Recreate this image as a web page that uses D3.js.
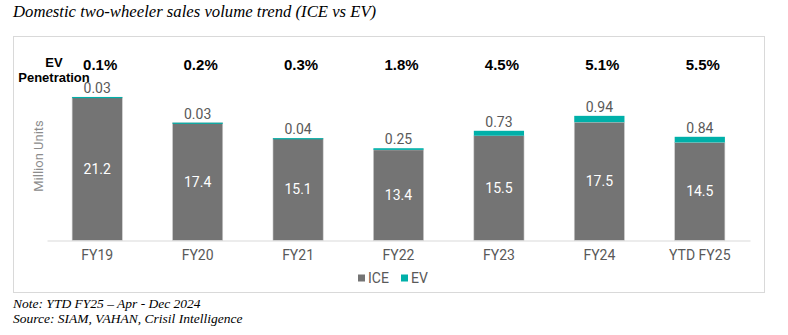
<!DOCTYPE html>
<html><head><meta charset="utf-8">
<script src="https://cdn.jsdelivr.net/npm/d3@7/dist/d3.min.js"></script>
<style>html,body{margin:0;padding:0;background:#fff;}svg{display:block;}</style>
</head><body>
<svg id="c" width="788" height="335"></svg>
<script>
const categories = ["FY19","FY20","FY21","FY22","FY23","FY24","YTD FY25"];
const iceValues = [21.2, 17.4, 15.1, 13.4, 15.5, 17.5, 14.5];
const evValues = [0.03, 0.03, 0.04, 0.25, 0.73, 0.94, 0.84];
const penetration = ["0.1%","0.2%","0.3%","1.8%","4.5%","5.1%","5.5%"];
const seriesNames = ["ICE","EV"];

const svg = d3.select("#c");
const ICE_COL = "#747474", EV_COL = "#00b0a9";
const font = "Roboto, 'Liberation Sans', Arial, sans-serif";
const boldFont = "'Liberation Sans', Arial, sans-serif";

// title
svg.append("text").attr("x",13).attr("y",17)
  .attr("font-family","'Liberation Serif', 'DejaVu Serif', serif").attr("font-style","italic")
  .attr("font-size",16.7).attr("fill","#000")
  .text("Domestic two-wheeler sales volume trend (ICE vs EV)");

// frame
svg.append("rect").attr("x",13.5).attr("y",36.5).attr("width",751).attr("height",256)
  .attr("fill","#fff").attr("stroke","#d9d9d9").attr("stroke-width",1);

const x = d3.scaleBand().domain(categories).range([47,750]).paddingInner(0.5).paddingOuter(0.25);
const y = d3.scaleLinear().domain([0,25]).range([240.5,71.5]);

const g = svg.append("g");
categories.forEach((c,i)=>{
  const x0 = x(c), w = x.bandwidth();
  const ice = iceValues[i], ev = evValues[i];
  g.append("rect").attr("x",x0).attr("y",y(ice)).attr("width",w).attr("height",y(0)-y(ice))
    .attr("fill",ICE_COL).attr("stroke","#d0d0d0").attr("stroke-width",0.6);
  g.append("rect").attr("x",x0).attr("y",y(ice+ev)).attr("width",w).attr("height",Math.max(y(ice)-y(ice+ev),1.2))
    .attr("fill",EV_COL);
  // ICE label
  g.append("text").attr("x",x0+w/2).attr("y",(y(0)+y(ice))/2).attr("dy","0.35em")
    .attr("text-anchor","middle").attr("font-family",font).attr("font-size",14).attr("fill","#fff")
    .text(d3.format(".1f")(ice));
  // EV label
  g.append("text").attr("x",x0+w/2).attr("y",y(ice+ev)-4)
    .attr("text-anchor","middle").attr("font-family",font).attr("font-size",14).attr("fill","#595959")
    .text(d3.format(".2f")(ev));
  // penetration
  g.append("text").attr("x",x0+w/2+3).attr("y",65).attr("dy","0.35em")
    .attr("text-anchor","middle").attr("font-family",boldFont).attr("font-weight","bold").attr("font-size",15).attr("fill","#000")
    .text(penetration[i]);
});

// axis
const ax = svg.append("g").attr("transform","translate(0,240.5)").call(d3.axisBottom(x).tickSize(0).tickPadding(10));
ax.select(".domain").attr("stroke","#d9d9d9").attr("stroke-width",1);
ax.selectAll("text").attr("font-family",font).attr("font-size",14).attr("fill","#595959");

// EV Penetration label
svg.append("text").attr("x",54).attr("y",62).attr("dy","0.35em").attr("text-anchor","middle")
  .attr("font-family",boldFont).attr("font-weight","bold").attr("font-size",13).attr("fill","#000").text("EV");
svg.append("text").attr("x",54).attr("y",77).attr("dy","0.35em").attr("text-anchor","middle")
  .attr("font-family",boldFont).attr("font-weight","bold").attr("font-size",13).attr("fill","#000").text("Penetration");

// y title
svg.append("text").attr("transform","translate(38,156) rotate(-90)").attr("dy","0.35em")
  .attr("text-anchor","middle").attr("font-family",font).attr("font-size",13).attr("fill","#8c8c8c")
  .text("Million Units");

// legend
const leg = svg.append("g");
const legX = [358, 401], legCol = [ICE_COL, EV_COL];
seriesNames.forEach((s,i)=>{
  leg.append("rect").attr("x",legX[i]).attr("y",274.5).attr("width",7).attr("height",7).attr("fill",legCol[i]);
  leg.append("text").attr("x",legX[i]+10).attr("y",278).attr("dy","0.35em")
    .attr("font-family",font).attr("font-size",14).attr("fill","#595959").text(s);
});

// notes
const nf = "'Liberation Serif', 'DejaVu Serif', serif";
svg.append("text").attr("x",13).attr("y",308).attr("font-family",nf).attr("font-style","italic")
  .attr("font-size",13.5).attr("fill","#000").text("Note: YTD FY25 \u2013 Apr - Dec 2024");
svg.append("text").attr("x",13).attr("y",323).attr("font-family",nf).attr("font-style","italic")
  .attr("font-size",13.5).attr("fill","#000").text("Source: SIAM, VAHAN, Crisil Intelligence");
</script>
</body></html>
